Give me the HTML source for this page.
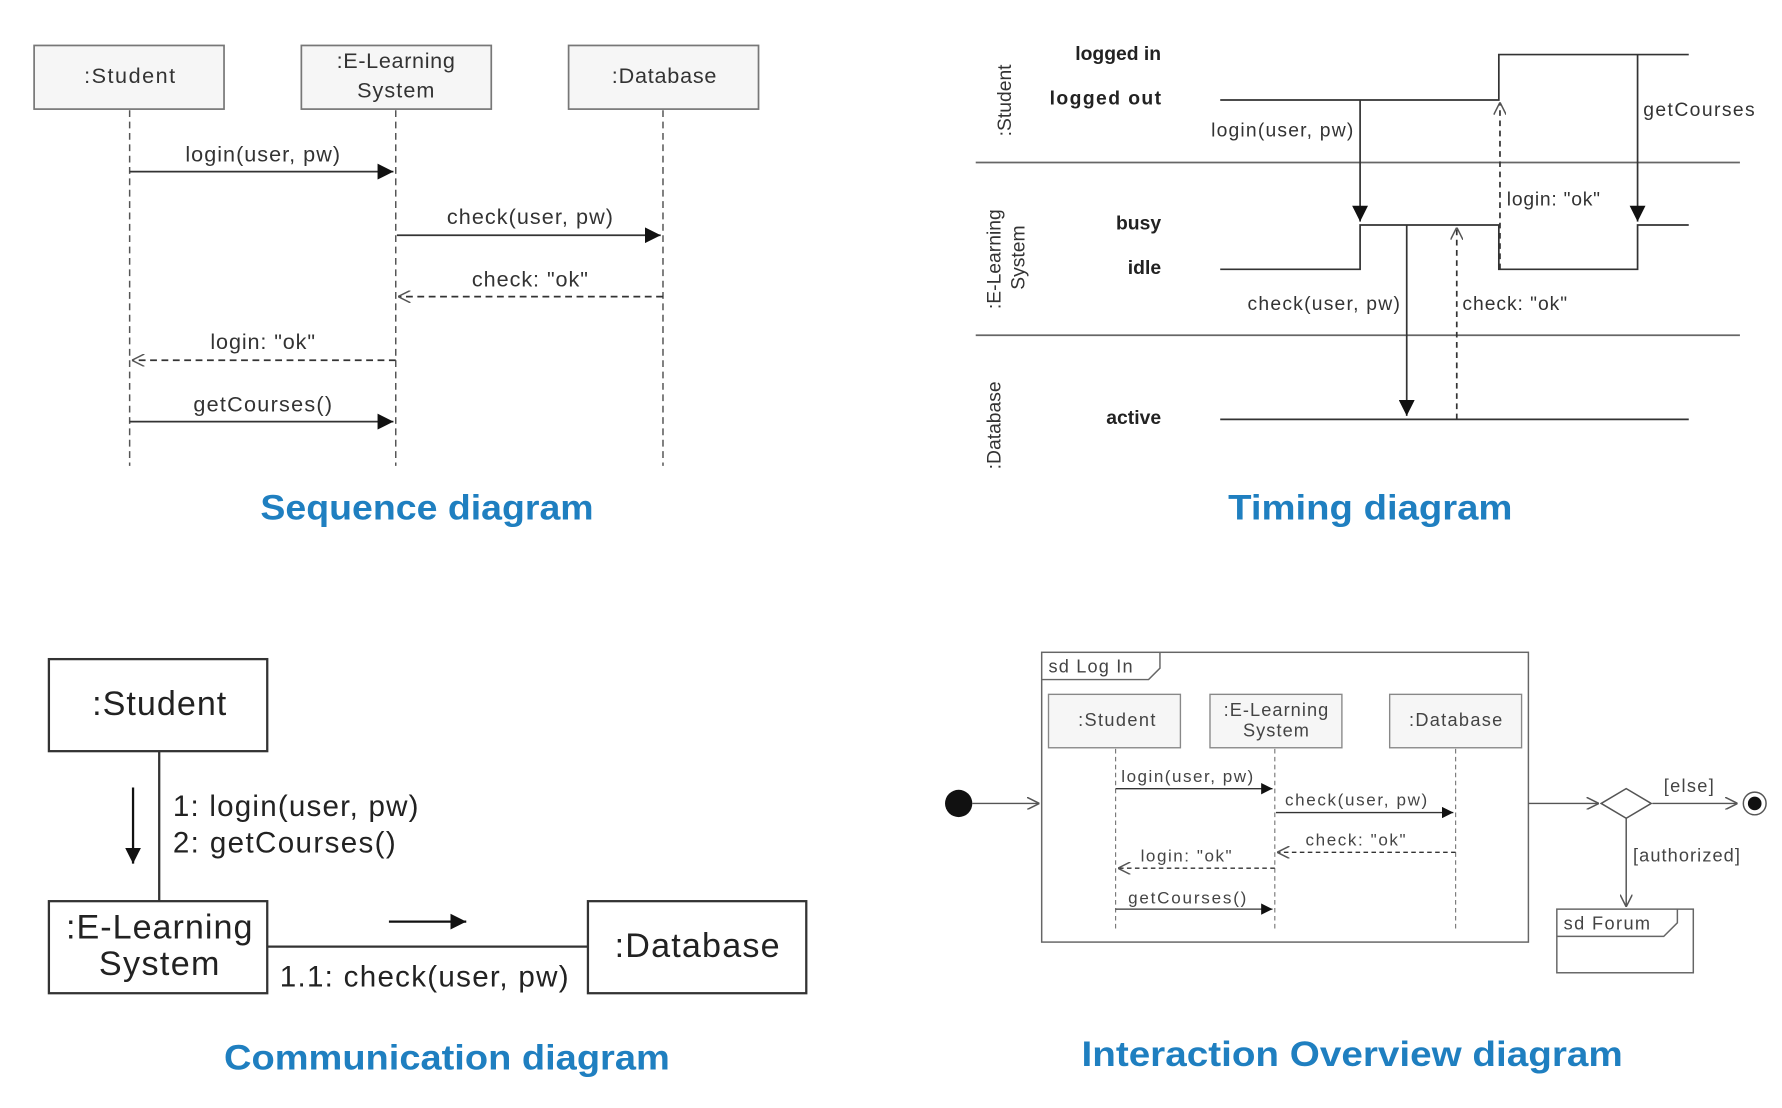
<!DOCTYPE html>
<html><head><meta charset="utf-8"><style>html,body{margin:0;padding:0;background:#fff}svg{display:block}</style></head>
<body>
<svg width="1782" height="1108" viewBox="0 0 1567 975" preserveAspectRatio="none" xmlns="http://www.w3.org/2000/svg" font-family="Liberation Sans, sans-serif">
<defs>
<marker id="f" viewBox="0 0 10 10" refX="10" refY="5" markerWidth="10" markerHeight="10" orient="auto" markerUnits="userSpaceOnUse"><path d="M0,0L10,5L0,10z" fill="#111"/></marker>
<marker id="fb" viewBox="0 0 10 10" refX="10" refY="5" markerWidth="14" markerHeight="14" orient="auto" markerUnits="userSpaceOnUse"><path d="M0,0L10,5L0,10z" fill="#111"/></marker>
<marker id="o" viewBox="0 0 10 10" refX="10" refY="5" markerWidth="11" markerHeight="11" orient="auto" markerUnits="userSpaceOnUse"><path d="M0,0L10,5L0,10" fill="none" stroke="#555" stroke-width="1.2"/></marker>
</defs>
<g fill="#333" stroke="none">
<!-- Sequence -->
<g stroke="#777" stroke-width="1.5" fill="#f6f6f6">
<rect x="30" y="40" width="167" height="56"/><rect x="265" y="40" width="167" height="56"/><rect x="500" y="40" width="167" height="56"/>
</g>
<g font-size="19" text-anchor="middle" fill="#333">
<text x="114" y="73" textLength="80">:Student</text><text x="348" y="60" textLength="104">:E-Learning</text><text x="348" y="86" textLength="68">System</text><text x="584" y="73" textLength="92">:Database</text>
</g>
<g stroke="#555" stroke-width="1.3" stroke-dasharray="6,4" fill="none">
<line x1="114" y1="97" x2="114" y2="410"/><line x1="348" y1="97" x2="348" y2="410"/><line x1="583" y1="97" x2="583" y2="410"/>
</g>
<g stroke="#333" stroke-width="1.5" fill="none">
<line x1="114" y1="151" x2="346" y2="151" marker-end="url(#fb)"/>
<line x1="349" y1="207" x2="581" y2="207" marker-end="url(#fb)"/>
<line x1="583" y1="261" x2="350" y2="261" stroke-dasharray="6,4" marker-end="url(#o)"/>
<line x1="348" y1="317" x2="116" y2="317" stroke-dasharray="6,4" marker-end="url(#o)"/>
<line x1="114" y1="371" x2="346" y2="371" marker-end="url(#fb)"/>
</g>
<g font-size="19" text-anchor="middle" fill="#333">
<text x="231" y="142" textLength="136">login(user, pw)</text><text x="466" y="197" textLength="146">check(user, pw)</text><text x="466" y="252" textLength="102">check: "ok"</text><text x="231" y="307" textLength="92">login: "ok"</text><text x="231" y="362" textLength="122">getCourses()</text>
</g>
<text x="229" y="457" font-size="31" font-weight="bold" fill="#1f7fc0" textLength="293" lengthAdjust="spacingAndGlyphs">Sequence diagram</text>

<!-- Timing -->
<g stroke="#666" stroke-width="1.5"><line x1="858" y1="143" x2="1530" y2="143"/><line x1="858" y1="295" x2="1530" y2="295"/></g>
<g font-size="17" fill="#333">
<text transform="translate(889,120) rotate(-90)">:Student</text>
<text transform="translate(880,272) rotate(-90)">:E-Learning</text>
<text transform="translate(901,255) rotate(-90)">System</text>
<text transform="translate(880,413) rotate(-90)">:Database</text>
</g>
<g font-size="17" font-weight="bold" fill="#222" text-anchor="end">
<text x="1021" y="53">logged in</text><text x="1021" y="92" textLength="98">logged out</text><text x="1021" y="202">busy</text><text x="1021" y="241">idle</text><text x="1021" y="373">active</text>
</g>
<g stroke="#333" stroke-width="1.5" fill="none">
<polyline points="1073,88 1318,88 1318,48 1485,48"/>
<polyline points="1073,237 1196,237 1196,198 1318,198 1318,237 1440,237 1440,198 1485,198"/>
<line x1="1073" y1="369" x2="1485" y2="369"/>
<line x1="1196" y1="88" x2="1196" y2="195" marker-end="url(#fb)"/>
<line x1="1440" y1="48" x2="1440" y2="195" marker-end="url(#fb)"/>
<line x1="1237" y1="198" x2="1237" y2="366" marker-end="url(#fb)"/>
<line x1="1281" y1="369" x2="1281" y2="200" stroke-dasharray="5,4" marker-end="url(#o)"/>
<line x1="1319" y1="237" x2="1319" y2="90" stroke-dasharray="5,4" marker-end="url(#o)"/>
</g>
<g font-size="17" fill="#333">
<text x="1065" y="120" textLength="125">login(user, pw)</text><text x="1445" y="102" textLength="98">getCourses</text><text x="1325" y="181" textLength="82">login: "ok"</text><text x="1097" y="273" textLength="134">check(user, pw)</text><text x="1286" y="273" textLength="92">check: "ok"</text>
</g>
<text x="1080" y="457" font-size="31" font-weight="bold" fill="#1f7fc0" textLength="250" lengthAdjust="spacingAndGlyphs">Timing diagram</text>

<!-- Communication -->
<g stroke="#333" stroke-width="2" fill="#fff">
<line x1="140" y1="661" x2="140" y2="793"/><line x1="235" y1="833" x2="517" y2="833"/>
<rect x="43" y="580" width="192" height="81"/><rect x="43" y="793" width="192" height="81"/><rect x="517" y="793" width="192" height="81"/>
</g>
<g stroke="#111" stroke-width="2" fill="none">
<line x1="117" y1="693" x2="117" y2="760" marker-end="url(#fb)"/>
<line x1="342" y1="811" x2="410" y2="811" marker-end="url(#fb)"/>
</g>
<g font-size="30" fill="#222" text-anchor="middle">
<text x="140" y="629" textLength="118">:Student</text><text x="140" y="826" textLength="164">:E-Learning</text><text x="140" y="858" textLength="106">System</text><text x="613" y="842" textLength="145">:Database</text>
</g>
<g font-size="26" fill="#222">
<text x="152" y="718" textLength="216">1: login(user, pw)</text><text x="152" y="750" textLength="196">2: getCourses()</text><text x="246" y="868" textLength="254">1.1: check(user, pw)</text>
</g>
<text x="197" y="941" font-size="31" font-weight="bold" fill="#1f7fc0" textLength="392" lengthAdjust="spacingAndGlyphs">Communication diagram</text>

<!-- Interaction overview -->
<g stroke="#666" stroke-width="1.3" fill="none">
<rect x="916" y="574" width="428" height="255"/>
<polyline points="916,598 1010,598 1020,588 1020,574"/>
<rect x="1369" y="800" width="120" height="56"/>
<polyline points="1369,824 1463,824 1475,812 1475,800"/>
</g>
<g stroke="#888" stroke-width="1.2" fill="#f6f6f6">
<rect x="922" y="611" width="116" height="47"/><rect x="1064" y="611" width="116" height="47"/><rect x="1222" y="611" width="116" height="47"/>
</g>
<g font-size="16" fill="#444" text-anchor="middle">
<text x="982" y="639" textLength="68">:Student</text><text x="1122" y="630" textLength="92">:E-Learning</text><text x="1122" y="648" textLength="58">System</text><text x="1280" y="639" textLength="82">:Database</text>
</g>
<text x="922" y="592" font-size="16" fill="#444" textLength="74">sd Log In</text>
<text x="1375" y="818" font-size="16" fill="#444" textLength="76">sd Forum</text>
<g stroke="#777" stroke-width="1" stroke-dasharray="4,3" fill="none">
<line x1="981" y1="659" x2="981" y2="820"/><line x1="1121" y1="659" x2="1121" y2="820"/><line x1="1280" y1="659" x2="1280" y2="820"/>
</g>
<g stroke="#333" stroke-width="1.2" fill="none">
<line x1="981" y1="694" x2="1119" y2="694" marker-end="url(#f)"/>
<line x1="1122" y1="715" x2="1278" y2="715" marker-end="url(#f)"/>
<line x1="1280" y1="750" x2="1123" y2="750" stroke-dasharray="4,3" marker-end="url(#o)"/>
<line x1="1121" y1="764" x2="983" y2="764" stroke-dasharray="4,3" marker-end="url(#o)"/>
<line x1="981" y1="800" x2="1119" y2="800" marker-end="url(#f)"/>
</g>
<g font-size="15" fill="#444">
<text x="986" y="688" textLength="116">login(user, pw)</text><text x="1130" y="709" textLength="125">check(user, pw)</text><text x="1148" y="744" textLength="88">check: "ok"</text><text x="1003" y="758" textLength="80">login: "ok"</text><text x="992" y="795" textLength="104">getCourses()</text>
</g>
<circle cx="843" cy="707" r="12" fill="#111"/>
<g stroke="#555" stroke-width="1.3" fill="none">
<line x1="855" y1="707" x2="914" y2="707" marker-end="url(#o)"/>
<line x1="1344" y1="707" x2="1406" y2="707" marker-end="url(#o)"/>
<line x1="1453" y1="707" x2="1528" y2="707" marker-end="url(#o)"/>
<line x1="1430" y1="720" x2="1430" y2="798" marker-end="url(#o)"/>
<polygon points="1408,707 1430,694 1452,707 1430,720" fill="#fff"/>
<circle cx="1543" cy="707" r="10"/>
</g>
<circle cx="1543" cy="707" r="6" fill="#111"/>
<g font-size="16" fill="#444"><text x="1463" y="697" textLength="44">[else]</text><text x="1436" y="758" textLength="94">[authorized]</text></g>
<text x="951" y="938" font-size="31" font-weight="bold" fill="#1f7fc0" textLength="476" lengthAdjust="spacingAndGlyphs">Interaction Overview diagram</text>
</g>
</svg>
</body></html>
